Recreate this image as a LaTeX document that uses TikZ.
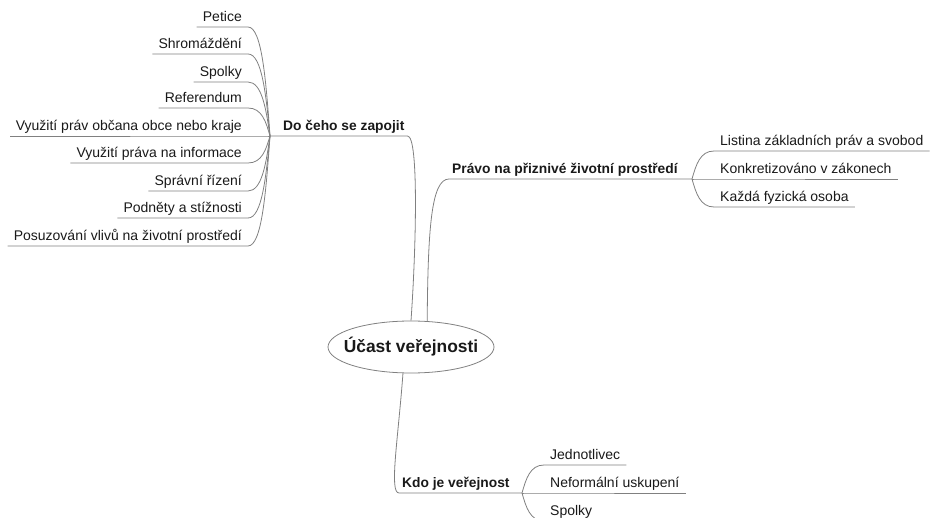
\documentclass[tikz,border=0pt]{standalone}
\usepackage{fontspec}
\setmainfont{Liberation Sans}
\usepackage{xcolor}
\usetikzlibrary{shapes.geometric}

\definecolor{linegray}{RGB}{128,128,128}
\definecolor{textdark}{RGB}{25,25,25}

\begin{document}
\begin{tikzpicture}[x=1pt, y=-1pt,
    branch/.style={draw=linegray, line width=0.8pt},
    leaf/.style={inner xsep=6pt, inner ysep=0pt, text height=9pt, text depth=5pt,
        text=textdark, font=\fontsize{14}{16}\selectfont},
    topic/.style={leaf, inner xsep=3pt, font=\bfseries\fontsize{13.8}{16}\selectfont},
    root/.style={ellipse, draw=linegray, line width=0.8pt, fill=white, inner sep=0pt,
        minimum width=166pt, minimum height=52pt, text=textdark,
        font=\bfseries\fontsize{17.4}{20}\selectfont}]
    \useasboundingbox (0,0) rectangle (936,518);

    % Central node
    \node[root] (center) at (411,347) {\makebox[0pt]{Účast veřejnosti}};

    % Branch: Do čeho se zapojit
    \coordinate (dohub) at (270,136);
    \node[topic, anchor=south west] (do) at (280,136) {Do čeho se zapojit};
    \draw[branch] (center.north) .. controls (416,250) and (419,136) .. (do.south east) -- (dohub);
    \foreach \name/\txt/\y in {pet/Petice/27, shr/Shromáždění/54, spo/Spolky/82,
        ref/Referendum/108, obc/Využití práv občana obce nebo kraje/136,
        inf/Využití práva na informace/163, spr/Správní řízení/191,
        pod/Podněty a stížnosti/218, eia/Posuzování vlivů na životní prostředí/246}
    {
        \node[leaf, anchor=south east] (\name) at (248,\y) {\txt};
        \draw[branch] (dohub) .. controls (266,{(\y+136)/2}) and (262,\y) .. (\name.south east) -- (\name.south west);
    }

    % Branch: Právo na přiznivé životní prostředí
    \coordinate (prhub) at (692,179);
    \node[topic, anchor=south west] (pr) at (449,179) {Právo na přiznivé životní prostředí};
    \draw[branch] (center.58) .. controls (428,230) and (431,179) .. (pr.south west) -- (prhub);
    \foreach \name/\txt/\y in {lis/Listina základních práv a svobod/151,
        kon/Konkretizováno v zákonech/179, kaz/Každá fyzická osoba/207}
    {
        \node[leaf, anchor=south west] (\name) at (714,\y) {\txt};
        \draw[branch] (prhub) .. controls (696,{(\y+179)/2}) and (700,\y) .. (\name.south west) -- (\name.south east);
    }

    % Branch: Kdo je veřejnost
    \coordinate (kdhub) at (522,493);
    \node[topic, anchor=south west] (kdo) at (399,493) {Kdo je veřejnost};
    \draw[branch] (center.-107) .. controls (398,440) and (389,493) .. (kdo.south west) -- (kdhub);
    \foreach \name/\txt/\y in {jed/Jednotlivec/465, nef/Neformální uskupení/493, spl/Spolky/521}
    {
        \node[leaf, anchor=south west] (\name) at (544,\y) {\txt};
        \draw[branch] (kdhub) .. controls (526,{(\y+493)/2}) and (530,\y) .. (\name.south west) -- (\name.south east);
    }
\end{tikzpicture}
\end{document}
